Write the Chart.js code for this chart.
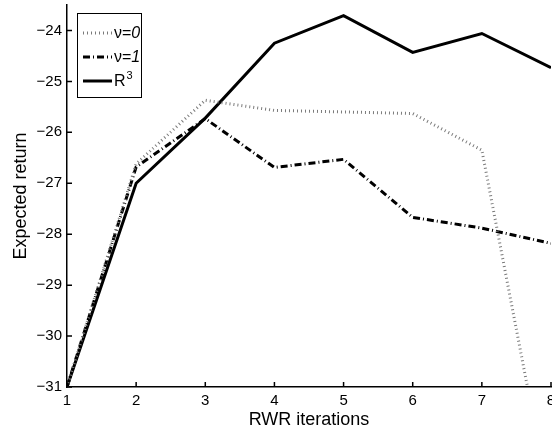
<!DOCTYPE html>
<html>
<head>
<meta charset="utf-8">
<script src="https://cdn.jsdelivr.net/npm/chart.js@4.4.1/dist/chart.umd.min.js"></script>
<style>
    html, body { margin: 0; padding: 0; background: #fff; overflow: hidden; }
</style>
</head>
<body>
<canvas id="retornoChart" width="552" height="434"></canvas>
<script>
// valores
const iteraciones = [1, 2, 3, 4, 5, 6, 7, 8];
const nu0 = [-31, -26.62, -25.37, -25.57, -25.6, -25.63, -26.35, -33.4];
const nu1 = [-31, -26.68, -25.73, -26.69, -26.53, -27.67, -27.88, -28.18];
const r3 = [-31, -27.0, -25.72, -24.25, -23.71, -24.43, -24.06, -24.73];
const nombres = ['ν=0', 'ν=1', 'R3'];
const ticksX = [1, 2, 3, 4, 5, 6, 7, 8];
const ticksY = [-31, -30, -29, -28, -27, -26, -25, -24];

const fuente = "'Liberation Sans', Arial, sans-serif";
const menos = v => String(v).replace('-', '\u2212');
const puntos = serie => serie.map((v, i) => ({ x: iteraciones[i], y: v }));

// marcas de los ejes hacia dentro, como en matlab
const ticksHaciaDentro = {
    id: 'ticksHaciaDentro',
    afterDatasetsDraw(chart) {
        const { ctx, chartArea, scales } = chart;
        ctx.save();
        ctx.strokeStyle = '#000';
        ctx.lineWidth = 1.5;
        ctx.beginPath();
        scales.x.ticks.forEach(t => {
            const px = scales.x.getPixelForValue(t.value);
            ctx.moveTo(px, chartArea.bottom);
            ctx.lineTo(px, chartArea.bottom - 5);
        });
        scales.y.ticks.forEach(t => {
            const py = scales.y.getPixelForValue(t.value);
            ctx.moveTo(chartArea.left, py);
            ctx.lineTo(chartArea.left + 5, py);
        });
        ctx.stroke();
        ctx.restore();
    }
};

// leyenda dentro del area, con cursiva y superindice
const leyenda = {
    id: 'leyenda',
    afterDraw(chart) {
        const { ctx } = chart;
        const x0 = 77, y0 = 13, ancho = 64, alto = 84;
        ctx.save();
        ctx.fillStyle = '#fff';
        ctx.fillRect(x0, y0, ancho, alto);
        ctx.strokeStyle = '#000';
        ctx.lineWidth = 1;
        ctx.strokeRect(x0 + 0.5, y0 + 0.5, ancho, alto);
        chart.data.datasets.forEach((ds, i) => {
            const y = y0 + 20 + i * 24;
            ctx.beginPath();
            ctx.setLineDash(ds.borderDash || []);
            ctx.strokeStyle = ds.borderColor;
            ctx.lineWidth = ds.borderWidth;
            ctx.moveTo(83, y);
            ctx.lineTo(112, y);
            ctx.stroke();
            ctx.setLineDash([]);
            ctx.fillStyle = '#000';
            ctx.textBaseline = 'middle';
            let x = 114;
            const base = ds.label.slice(0, -1);
            const ult = ds.label.slice(-1);
            ctx.font = '16px ' + fuente;
            ctx.fillText(base, x, y + 1);
            x += ctx.measureText(base).width;
            if (i < 2) {
                ctx.font = 'italic 16px ' + fuente;
                ctx.fillText(ult, x, y + 1);
            } else {
                ctx.font = '11px ' + fuente;
                ctx.fillText(ult, x + 1, y - 5);
            }
        });
        ctx.restore();
    }
};

const ctx = document.getElementById('retornoChart').getContext('2d');
const retornoChart = new Chart(ctx, {
    type: 'line',
    data: {
        datasets: [{
            label: nombres[0],
            data: puntos(nu0),
            borderColor: '#7a7a7a',
            borderWidth: 3,
            borderDash: [1, 3]
        }, {
            label: nombres[1],
            data: puntos(nu1),
            borderColor: '#000',
            borderWidth: 3,
            borderDash: [7, 3, 1, 3]
        }, {
            label: nombres[2],
            data: puntos(r3),
            borderColor: '#000',
            borderWidth: 3
        }]
    },
    options: {
        responsive: false,
        animation: false,
        elements: { point: { radius: 0 }, line: { tension: 0 } },
        layout: { padding: { top: 5, right: 1, left: 0, bottom: 0 } },
        plugins: {
            legend: { display: false },
            tooltip: { enabled: false }
        },
        scales: {
            x: {
                type: 'linear',
                min: 1,
                max: 8,
                afterBuildTicks: s => { s.ticks = ticksX.map(v => ({ value: v })); },
                afterFit: s => { s.height = 47; s.paddingLeft = 0; s.paddingRight = 0; },
                grid: { display: false, drawTicks: false },
                border: { display: true, color: '#000', width: 1.5 },
                ticks: { color: '#000', padding: 5, maxRotation: 0, autoSkip: false, font: { size: 15, family: fuente } },
                title: { display: true, text: 'RWR iterations', color: '#000', padding: { top: 0, bottom: 3 }, font: { size: 18, family: fuente } }
            },
            y: {
                min: -31,
                max: -23.5,
                afterBuildTicks: s => { s.ticks = ticksY.map(v => ({ value: v })); },
                afterFit: s => { s.width = 67; s.paddingTop = 0; s.paddingBottom = 0; },
                grid: { display: false, drawTicks: false },
                border: { display: true, color: '#000', width: 1.5 },
                ticks: { color: '#000', padding: 5, callback: v => menos(v), font: { size: 15, family: fuente } },
                title: { display: true, text: 'Expected return', color: '#000', padding: { top: 10, bottom: 0 }, font: { size: 18, family: fuente } }
            }
        }
    },
    plugins: [ticksHaciaDentro, leyenda]
});
</script>
</body>
</html>
